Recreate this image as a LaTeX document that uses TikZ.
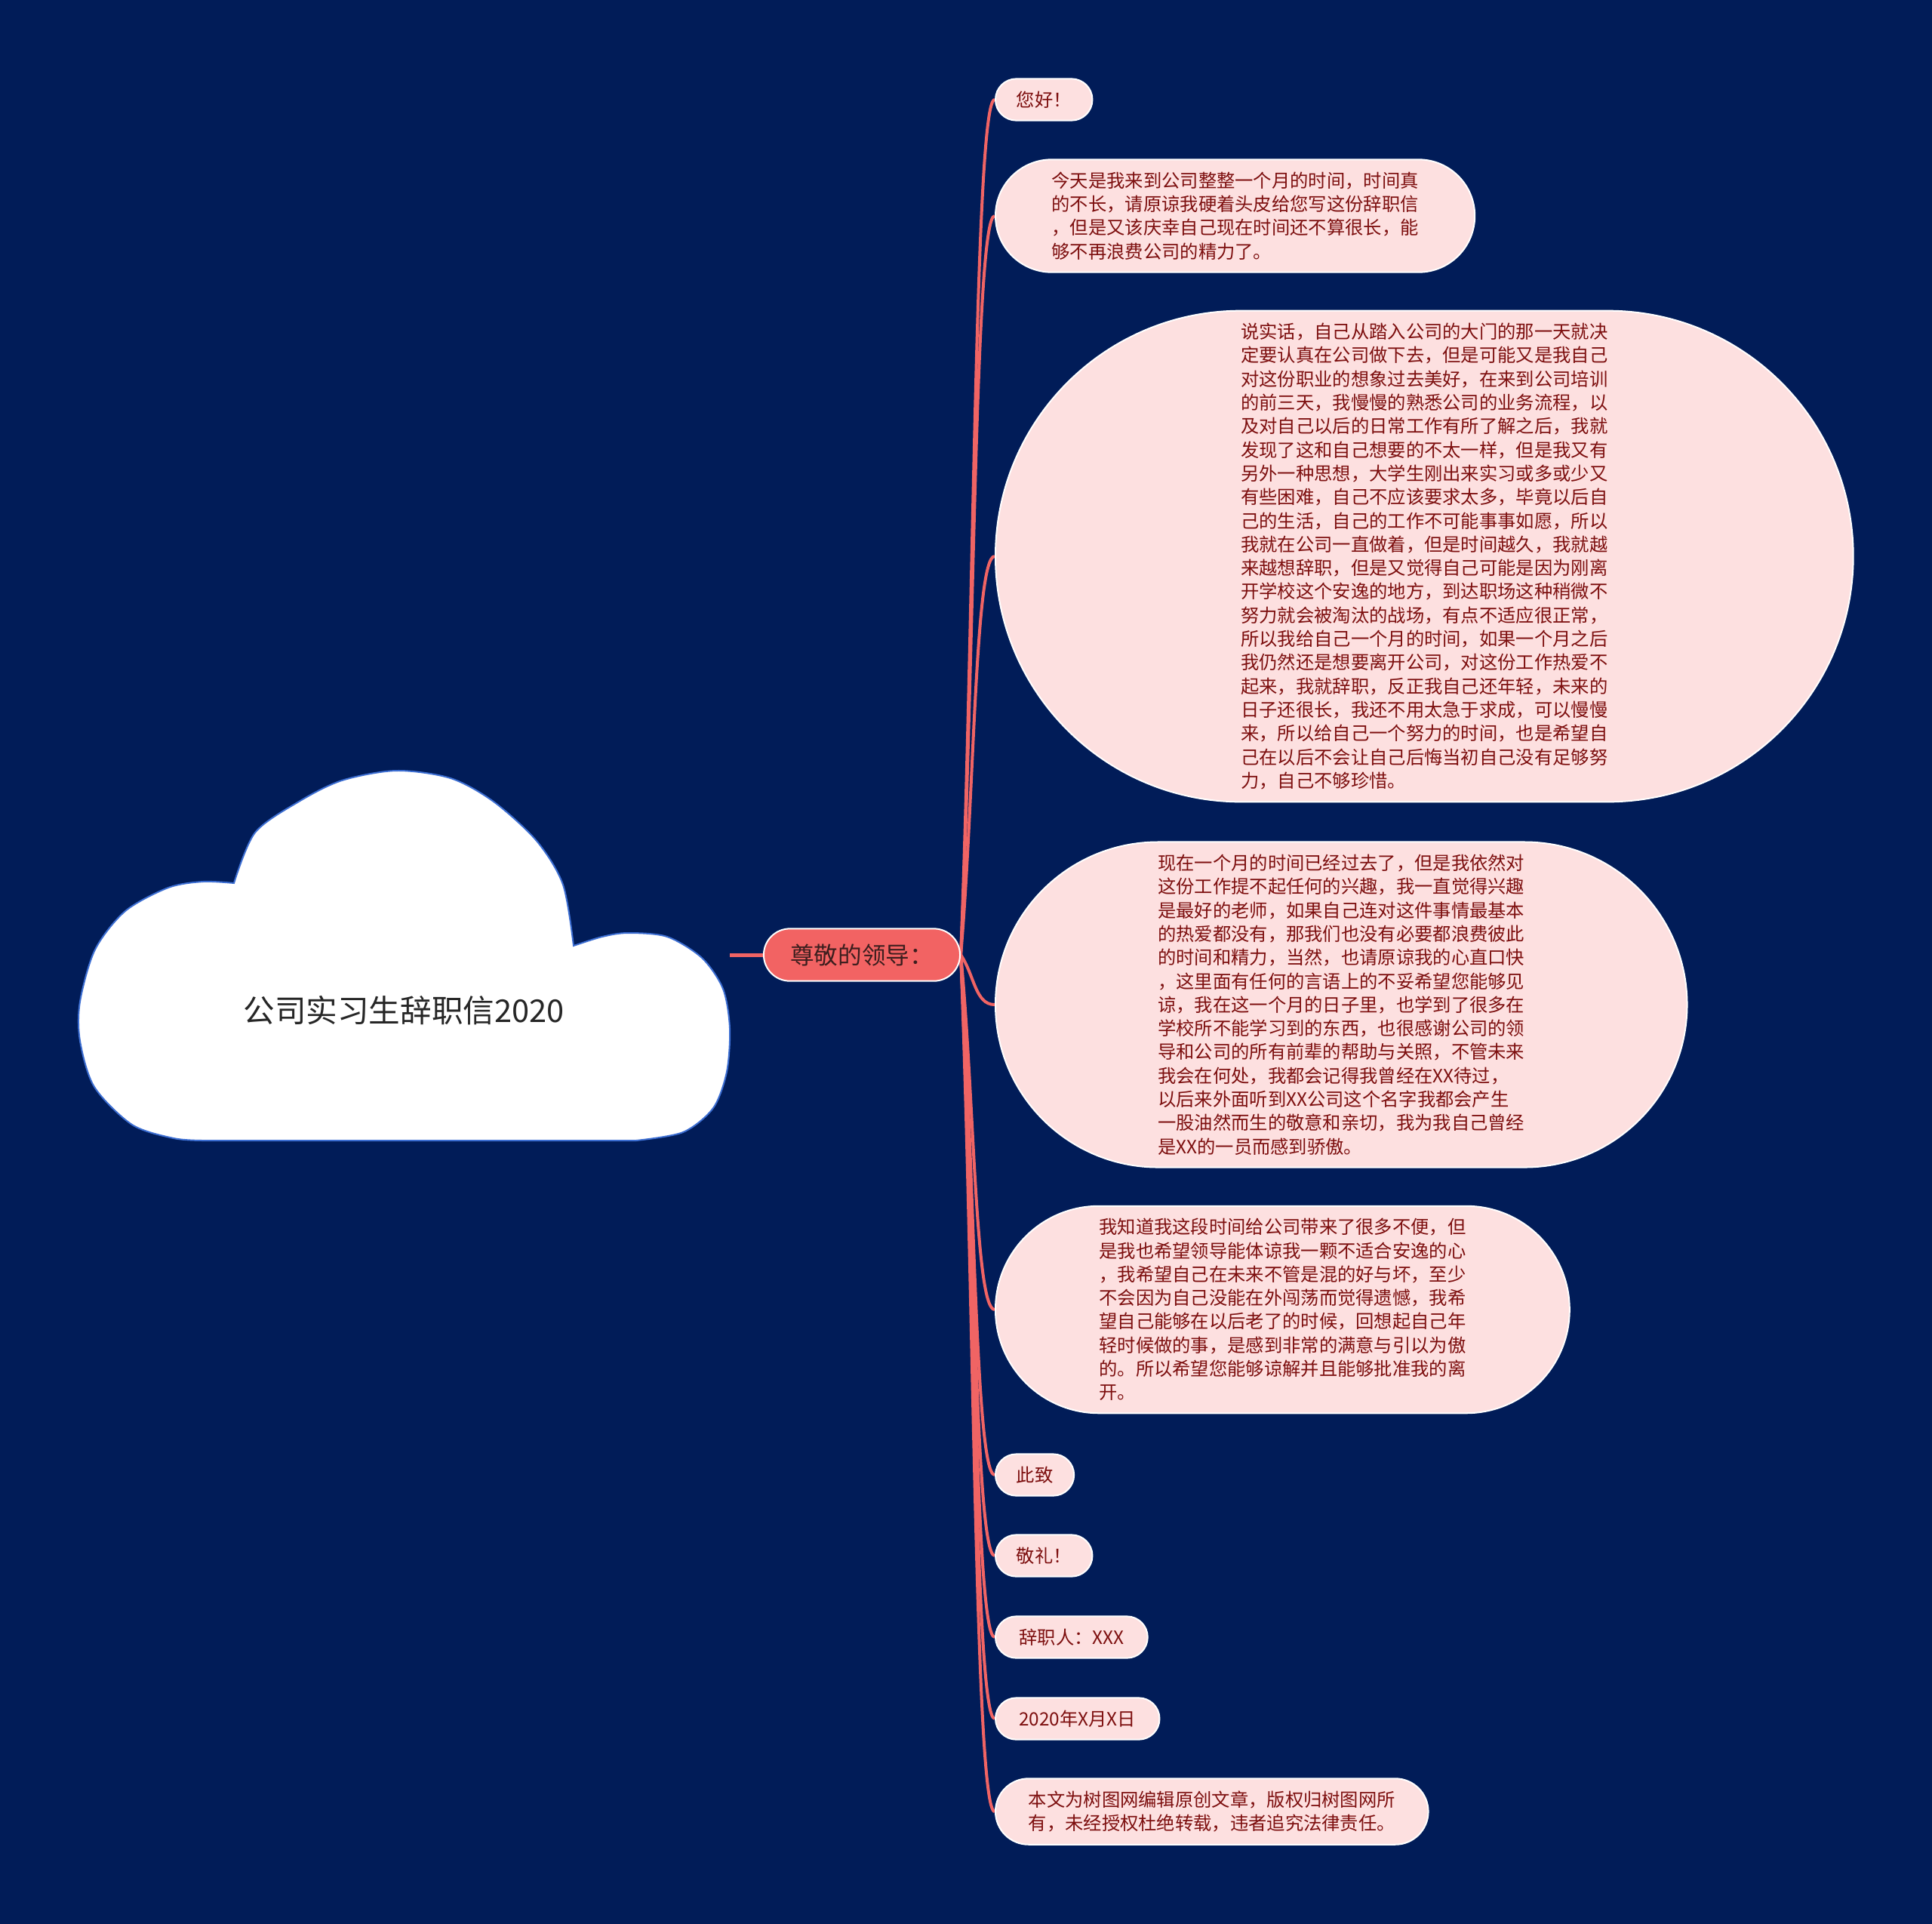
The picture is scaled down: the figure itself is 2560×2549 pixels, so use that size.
\documentclass[tikz,border=0pt]{standalone}
\usepackage{fontspec}
\setmainfont{Noto Sans CJK SC}
\usepackage{tikz}
\usetikzlibrary{shapes.misc,calc}
\definecolor{navy}{RGB}{1,28,88}
\definecolor{cloudline}{RGB}{60,110,210}
\definecolor{leafpink}{RGB}{253,224,224}
\definecolor{leaftext}{RGB}{125,15,15}
\definecolor{topicred}{RGB}{242,99,99}
\definecolor{topictext}{RGB}{60,30,30}
\definecolor{linkred}{RGB}{240,100,100}
\pgfdeclarelayer{bglayer}
\pgfdeclarelayer{edgelayer}
\pgfdeclarelayer{nodelayer}
\pgfsetlayers{bglayer,edgelayer,nodelayer,main}
\tikzstyle{cloud}=[fill=white,draw=cloudline,line width=1pt]
\tikzstyle{title}=[text=black!85,font=\fontsize{20.8pt}{25pt}\selectfont]
\tikzstyle{topic}=[rounded rectangle,fill=topicred,draw=white,line width=1pt,text=topictext,inner xsep=16pt,inner ysep=10pt,font=\fontsize{15.8pt}{19pt}\selectfont]
\tikzstyle{leaf}=[rounded rectangle,fill=leafpink,draw=white,line width=1pt,text=leaftext,inner xsep=12.7pt,inner ysep=8.2pt,align=left,anchor=west,font=\fontsize{12.15pt}{15.65pt}\selectfont]
\tikzstyle{stem}=[draw=linkred,line width=2.5pt]
\tikzstyle{branch}=[draw=linkred,line width=2pt,to path={.. controls ($(\tikztostart)!0.4!(\tikztotarget)$) and ($(\tikztotarget)+(-26,0)$) .. (\tikztotarget)}]

\begin{document}
\begin{tikzpicture}[x=0.5pt,y=-0.5pt]
	\useasboundingbox (0,0) rectangle (2560,2549);
	\begin{pgfonlayer}{bglayer}
		\fill [navy] (0,0) rectangle (2560,2549);
	\end{pgfonlayer}
	\begin{pgfonlayer}{nodelayer}
		\draw [style=cloud] (269,1511) -- (843,1511)
			-- plot [smooth] coordinates {(843,1511) (905,1500) (945,1468) (963,1420) (967,1362) (958,1310) (930,1269) (884,1241) (832,1236) (798,1241) (760,1253)}
			-- plot [smooth] coordinates {(760,1253) (746,1172) (711,1114) (654,1062) (597,1031) (525,1021) (453,1034) (396,1062) (338,1103) (310,1170)}
			-- plot [smooth] coordinates {(310,1170) (269,1168) (223,1176) (166,1207) (126,1258) (106,1327) (106,1379) (125,1440) (175,1490) (230,1508) (269,1511)}
			-- cycle;
		\node [style=title] (title) at (535,1339) {公司实习生辞职信2020};
		\coordinate (cloudR) at (967,1265);
		\node [style=topic] (main) at (1142,1265) {尊敬的领导：};
		\node [style=leaf] (hello) at (1318,132) {您好！};
		\node [style=leaf,inner xsep=23.3pt] (today) at (1318,286) {今天是我来到公司整整一个月的时间，时间真\\的不长，请原谅我硬着头皮给您写这份辞职信\\，但是又该庆幸自己现在时间还不算很长，能\\够不再浪费公司的精力了。};
		\node [style=leaf,inner xsep=51pt] (honest) at (1318,737) {说实话，自己从踏入公司的大门的那一天就决\\定要认真在公司做下去，但是可能又是我自己\\对这份职业的想象过去美好，在来到公司培训\\的前三天，我慢慢的熟悉公司的业务流程，以\\及对自己以后的日常工作有所了解之后，我就\\发现了这和自己想要的不太一样，但是我又有\\另外一种思想，大学生刚出来实习或多或少又\\有些困难，自己不应该要求太多，毕竟以后自\\己的生活，自己的工作不可能事事如愿，所以\\我就在公司一直做着，但是时间越久，我就越\\来越想辞职，但是又觉得自己可能是因为刚离\\开学校这个安逸的地方，到达职场这种稍微不\\努力就会被淘汰的战场，有点不适应很正常，\\所以我给自己一个月的时间，如果一个月之后\\我仍然还是想要离开公司，对这份工作热爱不\\起来，我就辞职，反正我自己还年轻，未来的\\日子还很长，我还不用太急于求成，可以慢慢\\来，所以给自己一个努力的时间，也是希望自\\己在以后不会让自己后悔当初自己没有足够努\\力，自己不够珍惜。};
		\node [style=leaf,inner xsep=41.1pt] (now) at (1318,1331) {现在一个月的时间已经过去了，但是我依然对\\这份工作提不起任何的兴趣，我一直觉得兴趣\\是最好的老师，如果自己连对这件事情最基本\\的热爱都没有，那我们也没有必要都浪费彼此\\的时间和精力，当然，也请原谅我的心直口快\\，这里面有任何的言语上的不妥希望您能够见\\谅，我在这一个月的日子里，也学到了很多在\\学校所不能学习到的东西，也很感谢公司的领\\导和公司的所有前辈的帮助与关照，不管未来\\我会在何处，我都会记得我曾经在XX待过，\\以后来外面听到XX公司这个名字我都会产生\\一股油然而生的敬意和亲切，我为我自己曾经\\是XX的一员而感到骄傲。};
		\node [style=leaf,inner xsep=32.6pt] (know) at (1318,1735) {我知道我这段时间给公司带来了很多不便，但\\是我也希望领导能体谅我一颗不适合安逸的心\\，我希望自己在未来不管是混的好与坏，至少\\不会因为自己没能在外闯荡而觉得遗憾，我希\\望自己能够在以后老了的时候，回想起自己年\\轻时候做的事，是感到非常的满意与引以为傲\\的。所以希望您能够谅解并且能够批准我的离\\开。};
		\node [style=leaf] (cizhi) at (1318,1954) {此致};
		\node [style=leaf] (jingli) at (1318,2061) {敬礼！};
		\node [style=leaf,inner xsep=14.5pt] (signer) at (1318,2169) {辞职人：XXX};
		\node [style=leaf,inner xsep=14.5pt] (date) at (1318,2277) {2020年X月X日};
		\node [style=leaf,inner xsep=17.1pt] (notice) at (1318,2400) {本文为树图网编辑原创文章，版权归树图网所\\有，未经授权杜绝转载，违者追究法律责任。};
	\end{pgfonlayer}
	\begin{pgfonlayer}{edgelayer}
		\draw [style=stem] (cloudR) -- (main.west);
		\draw [style=branch] (main.east) to (hello.west);
		\draw [style=branch] (main.east) to (today.west);
		\draw [style=branch] (main.east) to (honest.west);
		\draw [style=branch] (main.east) to (now.west);
		\draw [style=branch] (main.east) to (know.west);
		\draw [style=branch] (main.east) to (cizhi.west);
		\draw [style=branch] (main.east) to (jingli.west);
		\draw [style=branch] (main.east) to (signer.west);
		\draw [style=branch] (main.east) to (date.west);
		\draw [style=branch] (main.east) to (notice.west);
	\end{pgfonlayer}
\end{tikzpicture}
\end{document}
